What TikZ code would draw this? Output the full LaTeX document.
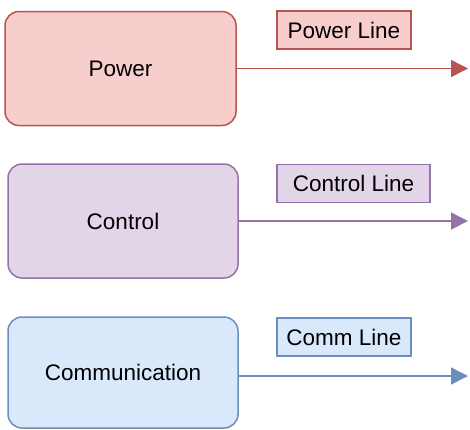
\documentclass[tikz,border=0pt]{standalone}
\usepackage{fontspec}
\setmainfont{Liberation Sans}
\usetikzlibrary{arrows.meta}

\definecolor{pwrfill}{HTML}{F8CECC}
\definecolor{pwrline}{HTML}{B85450}
\definecolor{ctlfill}{HTML}{E1D5E7}
\definecolor{ctlline}{HTML}{9673A6}
\definecolor{comfill}{HTML}{DAE8FC}
\definecolor{comline}{HTML}{6C8EBF}

\begin{document}
\begin{tikzpicture}[line width=1.5pt,
    font=\fontsize{22.5}{26}\selectfont,
    block/.style={draw, rectangle, rounded corners=14pt, minimum width=230pt, minimum height=114pt, align=center},
    tag/.style={draw, rectangle, inner sep=0pt, minimum height=38pt},
    feed/.style={-{Triangle[length=17pt, width=17pt]}}]
    \useasboundingbox (0pt,0pt) rectangle (470pt,-429pt);

    % Nodes
    \node[block, fill=pwrfill, draw=pwrline, minimum width=231pt] (power) at (120.5pt,-68.5pt) {Power};
    \node[block, fill=ctlfill, draw=ctlline] (control) at (123pt,-221pt) {Control};
    \node[block, fill=comfill, draw=comline, minimum height=111pt] (comm) at (123pt,-372.5pt) {Communication};

    % Line labels
    \node[tag, fill=pwrfill, draw=pwrline, minimum width=134pt] (powerlbl) at (344pt,-30pt) {Power Line};
    \node[tag, fill=ctlfill, draw=ctlline, minimum width=153pt] (controllbl) at (353.5pt,-183.5pt) {Control Line};
    \node[tag, fill=comfill, draw=comline, minimum width=134pt] (commlbl) at (344pt,-337pt) {Comm Line};

    % Line ends
    \coordinate (powerend) at (468pt,-68.5pt);
    \coordinate (controlend) at (468pt,-221pt);
    \coordinate (commend) at (468pt,-376pt);

    % Arrows
    \draw[feed, draw=pwrline, fill=pwrline] (power.east) -- (powerend);
    \draw[feed, draw=ctlline, fill=ctlline] (control.east) -- (controlend);
    \draw[feed, draw=comline, fill=comline] (comm.east |- commend) -- (commend);
\end{tikzpicture}
\end{document}
